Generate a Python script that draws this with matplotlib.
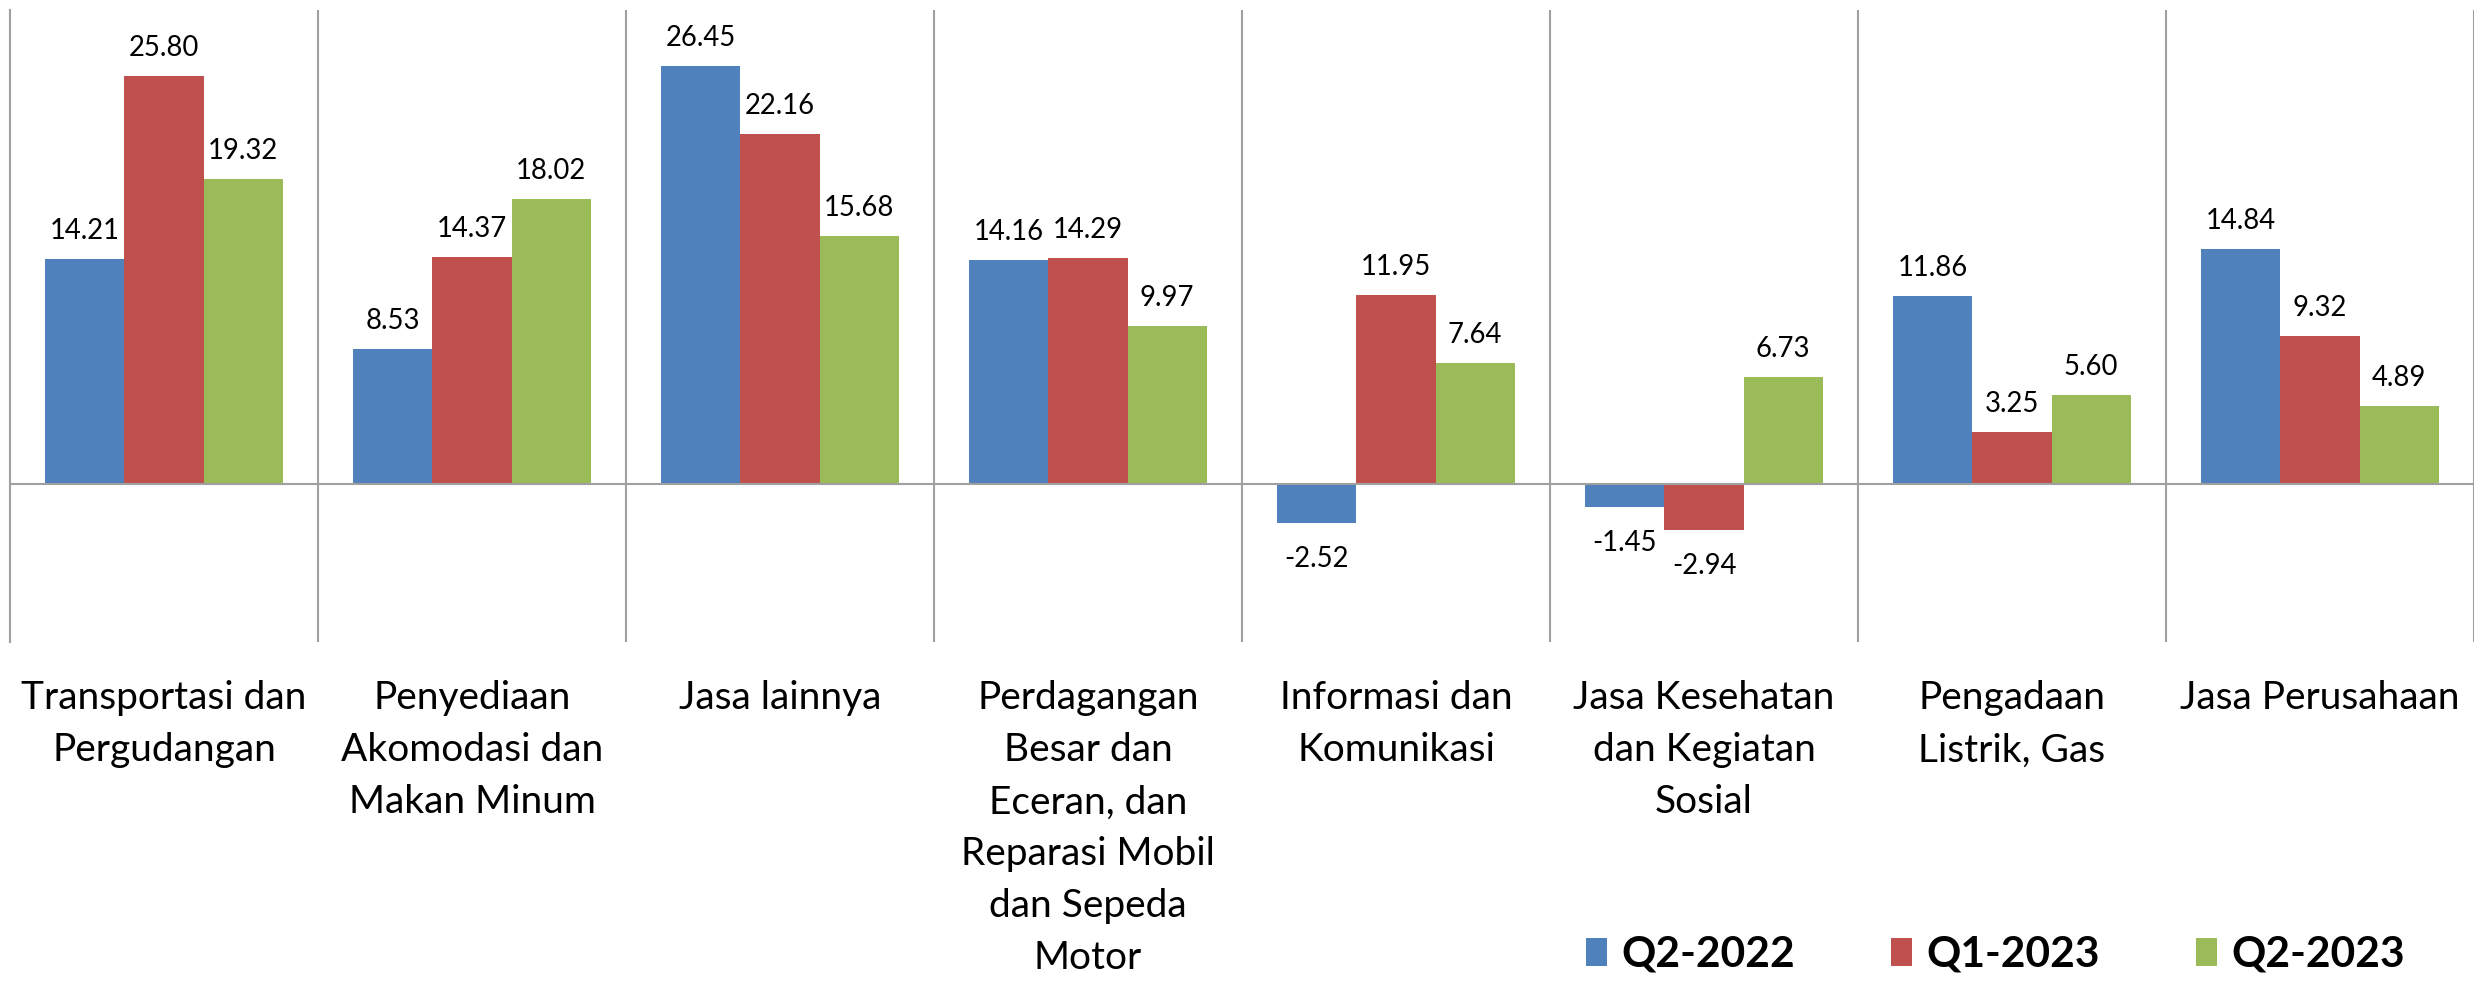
import matplotlib.pyplot as plt
import numpy as np

# data sektor
categories = [
    'Transportasi dan\nPergudangan',
    'Penyediaan\nAkomodasi dan\nMakan Minum',
    'Jasa lainnya',
    'Perdagangan\nBesar dan\nEceran, dan\nReparasi Mobil\ndan Sepeda\nMotor',
    'Informasi dan\nKomunikasi',
    'Jasa Kesehatan\ndan Kegiatan\nSosial',
    'Pengadaan\nListrik, Gas',
    'Jasa Perusahaan',
]
series_names = ['Q2-2022', 'Q1-2023', 'Q2-2023']
q2_2022 = [14.21, 8.53, 26.45, 14.16, -2.52, -1.45, 11.86, 14.84]
q1_2023 = [25.80, 14.37, 22.16, 14.29, 11.95, -2.94, 3.25, 9.32]
q2_2023 = [19.32, 18.02, 15.68, 9.97, 7.64, 6.73, 5.60, 4.89]
colors = ['#4F81BD', '#C0504D', '#9BBB59']

W, H = 2484, 981
fig = plt.figure(figsize=(W / 100, H / 100), dpi=100)
ax = fig.add_axes([10 / W, (H - 641.5) / H, 2464 / W, 631.5 / H])

x = np.arange(len(categories)) + 0.5
bw = 0.2565
grid_c = '#A0A0A0'
fam = ['Lato', 'DejaVu Sans']

for i, (vals, name) in enumerate(zip([q2_2022, q1_2023, q2_2023], series_names)):
    bars = ax.bar(x + (i - 1) * bw, vals, bw, color=colors[i], label=name, zorder=2)
    for rect, v in zip(bars, vals):
        cx = rect.get_x() + rect.get_width() / 2
        dy = 14.4 if v >= 0 else -31.7
        ax.annotate(f'{v:.2f}', (cx, v), xytext=(0, dy), textcoords='offset points',
                    ha='center', va='baseline', fontsize=19.8, family=fam)

ax.set_xlim(0, len(categories))
ax.set_ylim(-10, 30)

for b in range(1, len(categories) + 1):
    ax.axvline(b, color=grid_c, lw=1.5, zorder=1)
ax.axhline(0, color=grid_c, lw=1.5, zorder=3)

for s in ['top', 'right', 'bottom']:
    ax.spines[s].set_visible(False)
ax.spines['left'].set_color(grid_c)
ax.spines['left'].set_linewidth(1.5)

ax.set_yticks([])
ax.set_xticks(x)
ax.set_xticklabels(categories, fontsize=28, family=fam,
                   linespacing=1.55, va='top', ha='center', multialignment='center')
ax.tick_params(axis='x', length=0, pad=28)

leg = ax.legend(loc='center left', bbox_to_anchor=(1565 / W, (H - 955) / H),
                bbox_transform=fig.transFigure, ncol=3, frameon=False, borderpad=0,
                prop={'family': fam, 'weight': 'bold', 'size': 30.6},
                handlelength=0.49, handleheight=0.64, handletextpad=0.33, columnspacing=2.27)

plt.savefig('out.png', dpi=100)
